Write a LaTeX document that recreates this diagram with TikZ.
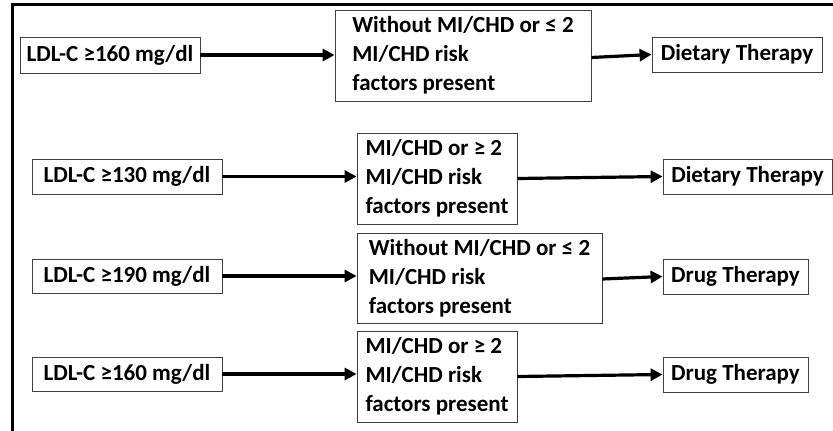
\documentclass[tikz,border=0pt]{standalone}
\usepackage{fontspec}
\setmainfont{Carlito}
\usetikzlibrary{arrows.meta}

\tikzset{
  box/.style={draw=black!75, line width=0.8pt, inner sep=0pt, align=left,
    font=\bfseries\fontsize{23}{29}\selectfont},
  link/.style={line width=3.2pt, -{Triangle[length=12pt,width=12pt]}}
}

\begin{document}
\begin{tikzpicture}[x=1pt,y=-1pt]
\useasboundingbox (0,0) rectangle (833,431);
% Cornice
\draw[line width=3pt] (12,431) -- (12,4) -- (833,4);

% Riga 1
\node (ldlA) at (110,55) [box, minimum width=180pt, minimum height=36pt] {LDL-C ≥160 mg/dl};
\node (riskA) at (463,55.5) [box, minimum width=256pt, minimum height=91pt] {Without MI/CHD or ≤ 2\\MI/CHD risk\\factors present};
\node (dietA) at (737,54.5) [box, minimum width=170pt, minimum height=35pt] {Dietary Therapy};
\draw[link] (ldlA.east) -- (riskA.west |- ldlA.east);
\draw[link] ([yshift=-2pt]riskA.east) -- (dietA.west);

% Riga 2
\node (ldlB) at (127,176.5) [box, minimum width=190pt, minimum height=35pt] {LDL-C ≥130 mg/dl};
\node (riskB) at (437,178.5) [box, minimum width=160pt, minimum height=91pt] {MI/CHD or ≥ 2\\MI/CHD risk\\factors present};
\node (dietB) at (747.5,176.5) [box, minimum width=169pt, minimum height=35pt] {Dietary Therapy};
\draw[link] (ldlB.east) -- (riskB.west |- ldlB.east);
\draw[link] (riskB.east) -- (dietB.west);

% Riga 3
\node (ldlC) at (127,276) [box, minimum width=190pt, minimum height=34pt] {LDL-C ≥190 mg/dl};
\node (riskC) at (479.5,278) [box, minimum width=245pt, minimum height=90pt] {Without MI/CHD or ≤ 2\\MI/CHD risk\\factors present};
\node (drugC) at (735.5,276.5) [box, minimum width=145pt, minimum height=35pt] {Drug Therapy};
\draw[link] (ldlC.east) -- (riskC.west |- ldlC.east);
\draw[link] ([yshift=-1pt]riskC.east) -- (drugC.west);

% Riga 4
\node (ldlD) at (127,374) [box, minimum width=190pt, minimum height=34pt] {LDL-C ≥160 mg/dl};
\node (riskD) at (437,376.5) [box, minimum width=160pt, minimum height=91pt] {MI/CHD or ≥ 2\\MI/CHD risk\\factors present};
\node (drugD) at (735.5,374.5) [box, minimum width=145pt, minimum height=35pt] {Drug Therapy};
\draw[link] (ldlD.east) -- (riskD.west |- ldlD.east);
\draw[link] (riskD.east) -- (drugD.west);
\end{tikzpicture}
\end{document}
